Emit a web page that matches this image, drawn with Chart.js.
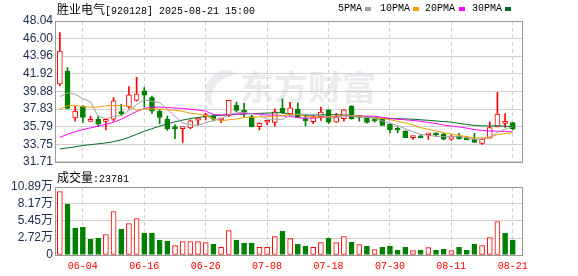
<!DOCTYPE html>
<html>
<head>
<meta charset="utf-8">
<script src="https://cdn.jsdelivr.net/npm/chart.js@4.4.1/dist/chart.umd.min.js"></script>
<style>
html,body{margin:0;padding:0;background:#fff;}
#wrap{position:relative;width:578px;height:276px;overflow:hidden;background:#fff;}
canvas{position:absolute;left:0;}
#c1{top:0;}
#c2{top:170px;}
.t{position:absolute;white-space:nowrap;color:#000;line-height:12px;}
.cjk{font-family:"Noto Sans CJK SC";font-size:12px;}
.mono{font-family:"Liberation Mono";font-size:10px;}
.sq{position:absolute;width:6px;height:4px;}
#wm{position:absolute;left:240px;top:66px;font-family:"Noto Sans CJK SC";font-weight:700;font-size:34px;line-height:40px;color:#ebebef;letter-spacing:0px;}
#logo{position:absolute;left:0;top:0;}
</style>
</head>
<body>
<div id="wrap">
  <svg id="logo" width="578" height="276"><path d="M222 70 C204 78 198 98 214 108 C208 96 212 84 228 77 C234 74 238 74 238 74 C234 71 228 69 222 70 Z" fill="#ececf0"/></svg>
  <div id="wm">东方财富</div>
  <canvas id="c1" width="578" height="172"></canvas>
  <canvas id="c2" width="578" height="106"></canvas>
  <div class="t" style="left:57px;top:3px;"><span class="cjk">胜业电气</span><span class="mono">[920128] 2025-08-21 15:00</span></div>
  <div class="t mono" style="left:338px;top:3px;">5PMA</div><div class="sq" style="left:365px;top:7px;background:#a0a0a0;"></div>
  <div class="t mono" style="left:380px;top:3px;">10PMA</div><div class="sq" style="left:413px;top:7px;background:#f0a000;"></div>
  <div class="t mono" style="left:425px;top:3px;">20PMA</div><div class="sq" style="left:459px;top:7px;background:#ff00ff;"></div>
  <div class="t mono" style="left:472px;top:3px;">30PMA</div><div class="sq" style="left:505px;top:7px;background:#006b2a;"></div>
  <div class="t" style="left:57px;top:171px;"><span class="cjk">成交量</span><span class="mono">:23781</span></div>
</div>
<script>
const dates = ['05-29','05-30','06-03','06-04','06-05','06-06','06-09','06-10','06-11','06-12',
  '06-13','06-16','06-17','06-18','06-19','06-20','06-23','06-24','06-25','06-26',
  '06-27','06-30','07-01','07-02','07-03','07-04','07-07','07-08','07-09','07-10',
  '07-11','07-14','07-15','07-16','07-17','07-18','07-21','07-22','07-23','07-24',
  '07-25','07-28','07-29','07-30','07-31','08-01','08-04','08-05','08-06','08-07',
  '08-08','08-11','08-12','08-13','08-14','08-15','08-18','08-19','08-20','08-21'];
const openP = [40.70,42.19,36.80,38.15,36.40,36.65,36.40,36.65,37.40,38.07,
  38.82,39.94,39.15,37.59,36.65,35.65,35.55,35.64,36.55,36.95,
  37.00,36.58,37.03,38.30,37.60,36.95,35.79,36.30,36.27,37.92,
  37.25,37.81,36.72,36.35,36.95,37.73,36.31,36.72,38.15,37.03,
  36.85,36.50,36.65,36.05,35.50,35.26,34.52,34.70,34.85,34.90,
  34.93,34.33,34.70,34.48,34.33,33.84,34.44,35.75,36.17,36.27];
const highP = [46.69,42.64,38.15,38.22,37.00,37.00,36.65,39.16,38.37,40.43,
  41.51,40.31,39.34,37.77,37.00,36.02,35.62,36.57,36.70,37.32,
  37.15,36.75,38.85,38.64,38.52,37.10,36.24,36.46,37.85,39.00,
  38.60,38.52,37.10,37.10,38.07,37.75,37.32,37.75,38.22,37.10,
  36.95,36.72,36.65,36.13,35.75,35.34,34.63,34.82,34.92,35.07,
  35.00,34.85,35.00,34.63,35.00,34.40,36.35,39.76,37.29,36.27];
const lowP = [40.51,37.85,36.43,36.28,36.38,35.78,35.40,36.43,37.10,37.89,
  38.75,38.07,37.32,36.13,35.34,34.40,33.95,35.55,35.98,36.57,
  36.45,36.25,36.95,37.51,36.87,35.75,35.41,35.98,35.83,37.29,
  37.14,36.87,35.87,36.13,36.50,36.13,36.28,36.43,36.65,36.43,
  36.20,36.31,35.94,35.07,35.07,34.52,34.30,34.48,34.30,34.63,
  34.26,34.18,34.33,34.26,33.96,33.73,34.44,35.75,35.71,35.41];
const closeP = [44.55,37.89,37.59,36.87,36.45,36.08,36.65,38.78,37.30,39.49,
  39.60,39.45,37.59,36.87,35.52,35.55,35.60,36.46,36.62,37.05,
  36.66,36.70,38.85,37.66,37.45,35.75,36.16,36.40,37.50,37.42,
  37.96,36.87,36.46,36.95,37.47,36.31,36.87,37.73,36.69,36.85,
  36.27,36.45,35.94,35.45,35.37,34.52,34.60,34.50,34.90,34.85,
  34.33,34.63,34.40,34.26,33.96,34.33,35.68,37.25,36.20,35.52];
const volume = [101400,81200,43200,44300,25100,26700,32600,69400,41100,50200,
  58200,34700,34700,23500,21900,14900,21400,21400,21400,19800,
  17100,12300,39000,23500,18700,18700,12300,12300,29400,37900,
  26200,17100,13900,12300,19800,26700,19800,29400,20300,16600,
  13900,8500,12300,13900,7500,12300,6900,7500,11700,7500,
  9100,6900,12300,7500,17100,14900,27800,53400,34700,23781];
const ma5 = [39.27,39.70,39.55,39.05,38.67,36.98,36.73,36.97,37.05,37.66,
  38.36,38.92,38.69,38.60,37.81,36.99,36.22,35.99,35.94,36.25,
  36.49,36.69,37.17,37.38,37.46,37.27,37.17,36.68,36.64,36.64,
  37.09,37.23,37.24,37.14,37.14,36.81,36.81,37.07,37.01,36.89,
  36.88,36.80,36.44,36.19,35.90,35.55,35.18,34.89,34.78,34.67,
  34.64,34.64,34.62,34.49,34.32,34.32,34.53,35.10,35.48,35.80];
const ma10 = [37.82,38.22,38.26,38.10,38.05,38.05,38.20,38.24,38.22,38.17,
  37.67,37.83,37.83,37.83,37.73,37.68,37.57,37.34,37.27,37.03,
  36.74,36.46,36.58,36.66,36.85,36.88,36.93,36.93,37.01,37.05,
  37.18,37.20,36.96,36.89,36.89,36.95,37.02,37.15,37.08,37.02,
  36.85,36.81,36.75,36.60,36.39,36.21,35.99,35.66,35.49,35.29,
  35.09,34.91,34.76,34.64,34.50,34.48,34.58,34.86,34.99,35.06];
const ma20 = [34.55,34.90,35.20,35.45,35.65,35.85,36.05,36.30,36.65,37.10,
  37.55,37.90,38.05,38.05,38.00,37.95,37.90,37.80,37.70,37.60,
  37.20,37.14,37.20,37.24,37.29,37.28,37.25,37.13,37.14,37.04,
  36.96,36.83,36.77,36.78,36.87,36.91,36.98,37.04,37.04,37.03,
  37.01,37.00,36.86,36.75,36.64,36.58,36.50,36.41,36.28,36.15,
  35.97,35.86,35.75,35.62,35.44,35.35,35.29,35.26,35.24,35.17];
const ma30 = [33.20,33.32,33.45,33.60,33.70,33.80,33.90,34.05,34.25,34.55,
  34.90,35.25,35.55,35.85,36.10,36.35,36.55,36.72,36.85,36.95,
  37.03,37.10,37.16,37.21,37.26,37.30,37.33,37.36,37.39,37.41,
  37.19,37.16,37.12,37.13,37.16,37.17,37.17,37.14,37.12,37.03,
  36.92,36.82,36.77,36.72,36.71,36.68,36.65,36.58,36.52,36.45,
  36.37,36.31,36.16,36.04,35.93,35.88,35.86,35.89,35.85,35.79];
const priceTicks = [31.71,33.75,35.79,37.83,39.88,41.92,43.96,46.00,48.04];
const volTicks = [0,27200,54500,81700,108900];
const xTickDates = ['06-04','06-16','06-26','07-08','07-18','07-30','08-11','08-21'];

const UP = '#ff0000', DOWN = '#008000';
const xIdx = xTickDates.map(d => dates.indexOf(d));
const candleUp = i => closeP[i] >= openP[i];
const volUp = i => i === 0 ? true : closeP[i] >= closeP[i - 1];

const frame = {
  id: 'frame',
  afterDraw(chart) {
    const {ctx, chartArea: a} = chart;
    ctx.save();
    ctx.strokeStyle = '#999999';
    ctx.lineWidth = 1;
    ctx.setLineDash([]);
    const L = Math.round(a.left) - 0.5, R = Math.round(a.right) + 0.5;
    const T = Math.round(a.top) + 0.5, B = Math.round(a.bottom) + 0.5;
    ctx.strokeRect(L, T, R - L, B - T);
    ctx.restore();
  }
};

function xScale(showTicks) {
  return {
    type: 'linear', min: -0.5, max: 60.2, offset: false,
    afterBuildTicks: s => { s.ticks = xIdx.map(v => ({value: v})); },
    ticks: {display: showTicks, autoSkip: false, maxRotation: 0, color: '#ff0000',
      font: {family: 'Liberation Mono', size: 10}, padding: 5, callback: v => dates[v]},
    grid: {color: '#d0d0d0', drawTicks: false, lineWidth: 1, offset: false},
    border: {display: false, dash: [4, 3]},
    afterFit: s => { s.height = showTicks ? 21 : 0; }
  };
}

const common = {
  responsive: false, animation: false, events: [],
  plugins: {legend: {display: false}, tooltip: {enabled: false}}
};

const pts = arr => arr.map((v, i) => ({x: i, y: v}));
const line = (arr, color) => ({type: 'line', data: pts(arr), borderColor: color, borderWidth: 1,
  pointRadius: 0, tension: 0, fill: false, order: 0});

new Chart(document.getElementById('c1'), {
  type: 'bar',
  data: {
    datasets: [
      line(ma5, '#a0a0a0'), line(ma10, '#f0a000'), line(ma20, '#ff00ff'), line(ma30, '#006b2a'),
      {type: 'bar', data: openP.map((o, i) => ({x: i, y: [o, closeP[i]]})),
        backgroundColor: openP.map((o, i) => candleUp(i) ? '#ffffff' : DOWN),
        borderColor: openP.map((o, i) => candleUp(i) ? UP : DOWN),
        borderWidth: 1, borderSkipped: false, barThickness: 5, minBarLength: 2, grouped: false, order: 1},
      {type: 'bar', data: lowP.map((l, i) => ({x: i, y: [l, highP[i]]})),
        backgroundColor: lowP.map((l, i) => candleUp(i) ? UP : DOWN),
        borderWidth: 0, barThickness: 1, grouped: false, order: 2}
    ]
  },
  options: Object.assign({}, common, {
    layout: {padding: {top: 21, right: 56, bottom: 6, left: 0}},
    scales: {
      x: xScale(false),
      y: {
        min: 31.71, max: 48.04,
        afterBuildTicks: s => { s.ticks = priceTicks.map(v => ({value: v})); },
        ticks: {autoSkip: false, color: '#203050', font: {family: 'Liberation Sans', size: 12},
          padding: 3, callback: v => Number(v).toFixed(2)},
        grid: {color: '#d0d0d0', drawTicks: false},
        border: {display: false},
        afterFit: s => { s.width = 56; }
      }
    }
  }),
  plugins: [frame]
});

new Chart(document.getElementById('c2'), {
  type: 'bar',
  data: {
    datasets: [{
      data: volume.map((v, i) => ({x: i, y: v})),
      backgroundColor: volume.map((v, i) => volUp(i) ? '#ffffff' : DOWN),
      borderColor: volume.map((v, i) => volUp(i) ? UP : DOWN),
      borderWidth: 1, borderSkipped: false, barThickness: 5, grouped: false
    }]
  },
  options: Object.assign({}, common, {
    layout: {padding: {top: 17, right: 56, bottom: 0, left: 0}},
    scales: {
      x: xScale(true),
      y: {
        min: 0, max: 108900,
        afterBuildTicks: s => { s.ticks = volTicks.map(v => ({value: v})); },
        ticks: {autoSkip: false, color: '#203050',
          font: {family: "'Liberation Sans', 'Noto Sans CJK SC'", size: 12}, padding: 3,
          callback: v => v === 0 ? '0' : (v / 10000).toFixed(2) + '万'},
        grid: {color: '#d0d0d0', drawTicks: false},
        border: {display: false},
        afterFit: s => { s.width = 56; }
      }
    }
  }),
  plugins: [frame]
});
</script>
</body>
</html>
